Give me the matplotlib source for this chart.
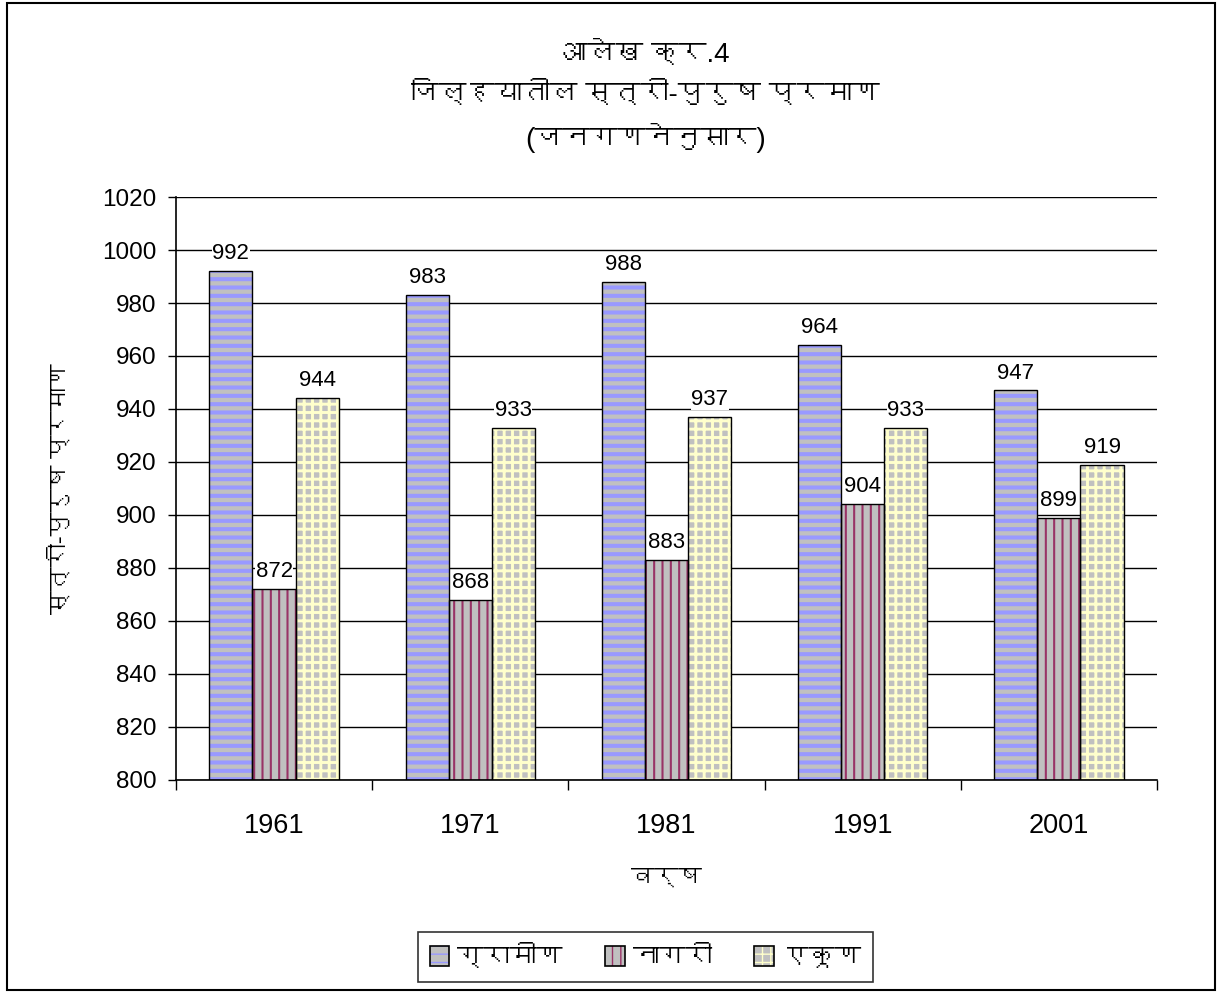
import matplotlib
matplotlib.use("Agg")
import matplotlib.pyplot as plt
import numpy as np
from matplotlib import font_manager, ft2font
from matplotlib.patches import Rectangle, Patch
from matplotlib.legend_handler import HandlerTuple

years = ["1961", "1971", "1981", "1991", "2001"]
rural = [992, 983, 988, 964, 947]
urban = [872, 868, 883, 904, 899]
total = [944, 933, 937, 933, 919]
series_names = ["ग्रामीण", "नागरी", "एकूण"]

title = "आलेख क्र.4\nजिल्हयातील स्त्री-पुरुष प्रमाण\n(जनगणनेनुसार)"
ylabel = "स्त्री-पुरुष प्रमाण"
xlabel = "वर्ष"


# find any installed font that carries Devanagari glyphs
def find_deva():
    for f in font_manager.fontManager.ttflist:
        try:
            cm = ft2font.FT2Font(f.fname).get_charmap()
        except Exception:
            continue
        if 0x0915 in cm:
            return f.name
    return None

deva = find_deva()
plt.rcParams["font.family"] = ["Liberation Sans"] + ([deva] if deva else []) + ["DejaVu Sans"]

fig = plt.figure(figsize=(12.22, 9.96), dpi=100)
ax = fig.add_axes([0.1440, 0.2169, 0.8028, 0.5853])

x = np.arange(len(years))
w = 0.22
styles = [
    # face, hatch colour, hatch, hatch lw
    ("#C0C0C0", "#9999FF", "--", 2.9),
    ("#C0C0C0", "#993366", "||", 1.5),
    ("#C0C0C0", "#FFFFCC", "++", 2.1),
]
handles = []
for i, (vals, (fc, hc, h, hlw)) in enumerate(zip([rural, urban, total], styles)):
    xs = x + (i - 1) * w
    base = [v - 800 for v in vals]
    with plt.rc_context({"hatch.linewidth": hlw}):
        ax.bar(xs, base, w, bottom=800, color=fc, edgecolor=hc, hatch=h, linewidth=0, zorder=2)
        hp = Patch(facecolor=fc, edgecolor=hc, hatch=h, linewidth=0)
    ax.bar(xs, base, w, bottom=800, facecolor="none", edgecolor="black", linewidth=1, zorder=3)
    handles.append((hp, Patch(facecolor="none", edgecolor="black", linewidth=1.2)))
    for xi, v in zip(xs, vals):
        ax.annotate(str(v), (xi, v), xytext=(0, 5), textcoords="offset points",
                    ha="center", va="bottom", fontsize=16, zorder=4,
                    bbox=dict(facecolor="white", edgecolor="none", pad=0.3))

ax.set_ylim(800, 1020)
ax.set_xlim(-0.5, len(years) - 0.5)
ax.set_yticks(np.arange(800, 1021, 20))
ax.yaxis.grid(True, color="black", linewidth=1, zorder=0)
ax.set_axisbelow(True)
ax.tick_params(axis="y", labelsize=17.5, length=6, width=1, direction="out", pad=8)
ax.set_xticks(np.arange(-0.5, len(years)), minor=False)
ax.set_xticklabels([])
ax.set_xticks(x, minor=True)
ax.set_xticklabels(years, minor=True, fontsize=19.5)
ax.tick_params(axis="x", which="major", length=7, width=1, direction="out")
ax.tick_params(axis="x", which="minor", length=0, pad=24)
for s in ["top", "right"]:
    ax.spines[s].set_visible(False)
for s in ["left", "bottom"]:
    ax.spines[s].set_linewidth(1.2)

ax.set_ylabel(ylabel, fontsize=17, labelpad=22)
ax.set_xlabel(xlabel, fontsize=17, labelpad=20)

fig.text(0.528, 0.903, title, ha="center", va="center", fontsize=20, linespacing=1.62)

leg = fig.legend(handles, series_names, loc="center", bbox_to_anchor=(0.528, 0.039), ncol=3,
                 handler_map={tuple: HandlerTuple(ndivide=1, pad=0)},
                 fontsize=19, frameon=True, fancybox=False, edgecolor="black",
                 handlelength=0.75, handleheight=0.75, columnspacing=1.6, handletextpad=0.3,
                 borderpad=0.45)
leg.get_frame().set_linewidth(1.2)

fig.patches.append(Rectangle((7 / 1222, 6 / 996), 1208 / 1222, 987 / 996, transform=fig.transFigure,
                             fill=False, edgecolor="black", linewidth=1.5))

fig.savefig("out.png", dpi=100)
